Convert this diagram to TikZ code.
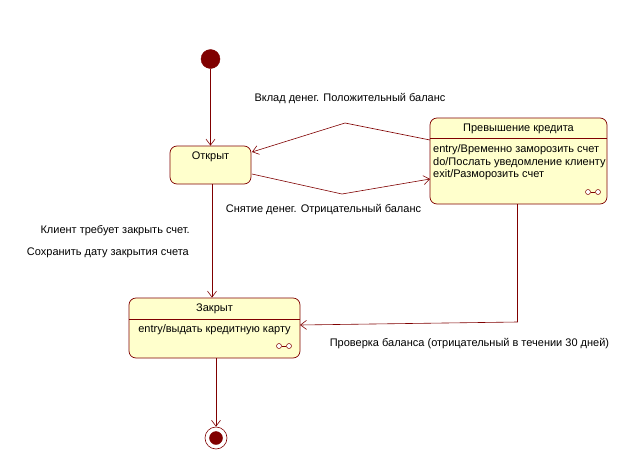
\documentclass[tikz,border=0pt]{standalone}
\usepackage{fontspec}
\setmainfont{Liberation Sans}
\usetikzlibrary{arrows.meta}
\definecolor{umlred}{RGB}{128,0,0}
\definecolor{umlfill}{RGB}{255,255,204}
\begin{document}
\begin{tikzpicture}[x=1pt,y=-1pt,
  statebox/.style={draw=umlred, fill=umlfill, rounded corners=7pt, line width=0.7pt, inner sep=0pt},
  dotnode/.style={circle, fill=umlred, draw=umlred, inner sep=0pt},
  txt/.style={inner sep=0pt, font=\fontsize{11}{13}\selectfont},
  conn/.style={draw=umlred, line width=0.6pt},
  arr/.style={conn, -{Straight Barb[length=6pt,width=9pt]}},
  iconc/.style={circle, draw=umlred, fill=white, inner sep=0pt, minimum size=5pt, line width=0.5pt}]
\useasboundingbox (0,0) rectangle (619,453);
\fill[white] (0,0) rectangle (619,453);

% initial
\node[dotnode, minimum size=19pt] (init) at (210.5,59) {};

% Open state
\node[statebox, minimum width=81pt, minimum height=38pt] (open) at (210.5,165) {};
\node[txt] (openlbl) at (210.5,157) {Открыт};

% Overdraft state
\node[statebox, minimum width=177pt, minimum height=86pt] (over) at (518.5,161) {};
\coordinate (ovL) at (430,138);
\coordinate (ovR) at (607,138);
\draw[conn] (ovL) -- (ovR);
\node[txt] (overlbl) at (518.5,129) {Превышение кредита};
\node[txt, anchor=west] (ov1) at (433,150) {entry/Временно заморозить счет};
\node[txt, anchor=west] (ov2) at (433,162.5) {do/Послать уведомление клиенту};
\node[txt, anchor=west] (ov3) at (433,175) {exit/Разморозить счет};
\node[iconc] (ovi1) at (588,192) {};
\node[iconc] (ovi2) at (598,192) {};
\draw[conn, line width=0.5pt] (ovi1) -- (ovi2);

% Closed state
\node[statebox, minimum width=171pt, minimum height=60pt] (closed) at (214.5,328) {};
\coordinate (clL) at (129,319);
\coordinate (clR) at (300,319);
\draw[conn] (clL) -- (clR);
\node[txt] (closedlbl) at (214.5,309) {Закрыт};
\node[txt] (cl1) at (214.5,330) {entry/выдать кредитную карту};
\node[iconc] (cli1) at (279,346) {};
\node[iconc] (cli2) at (289,346) {};
\draw[conn, line width=0.5pt] (cli1) -- (cli2);

% final
\node[circle, draw=umlred, fill=white, line width=0.6pt, minimum size=22pt, inner sep=0pt] (final) at (216,438) {};
\node[dotnode, minimum size=13pt] (finaldot) at (216,438) {};

% transitions
\draw[arr] (init) -- (open.north -| init);
\coordinate (oc1) at (212,184);
\draw[arr] (oc1) -- (closed.north -| oc1);
\coordinate (cf1) at (216,358);
\draw[arr] (cf1) -- (final.north);

\coordinate (dep0) at (430,140);
\coordinate (depm) at (345,123);
\coordinate (dep1) at (252,152);
\draw[arr] (dep0) -- (depm) -- (dep1);

\coordinate (wd0) at (252,174);
\coordinate (wdm) at (342,194);
\coordinate (wd1) at (430,179);
\draw[arr] (wd0) -- (wdm) -- (wd1);

\coordinate (ch0) at (517.5,204);
\coordinate (ch1) at (517.5,322);
\coordinate (ch2) at (300,325);
\draw[arr] (ch0) -- (ch1) -- (ch2);

% labels
\node[txt] (ldep) at (350,99) {Вклад денег. Положительный баланс};
\node[txt] (lwd) at (323.5,210) {Снятие денег. Отрицательный баланс};
\node[txt, anchor=east] (lcl1) at (190,231) {Клиент требует закрыть счет.};
\node[txt, anchor=east] (lcl2) at (189,253) {Сохранить дату закрытия счета};
\node[txt] (lch) at (469.5,344) {Проверка баланса (отрицательный в течении 30 дней)};
\end{tikzpicture}
\end{document}
